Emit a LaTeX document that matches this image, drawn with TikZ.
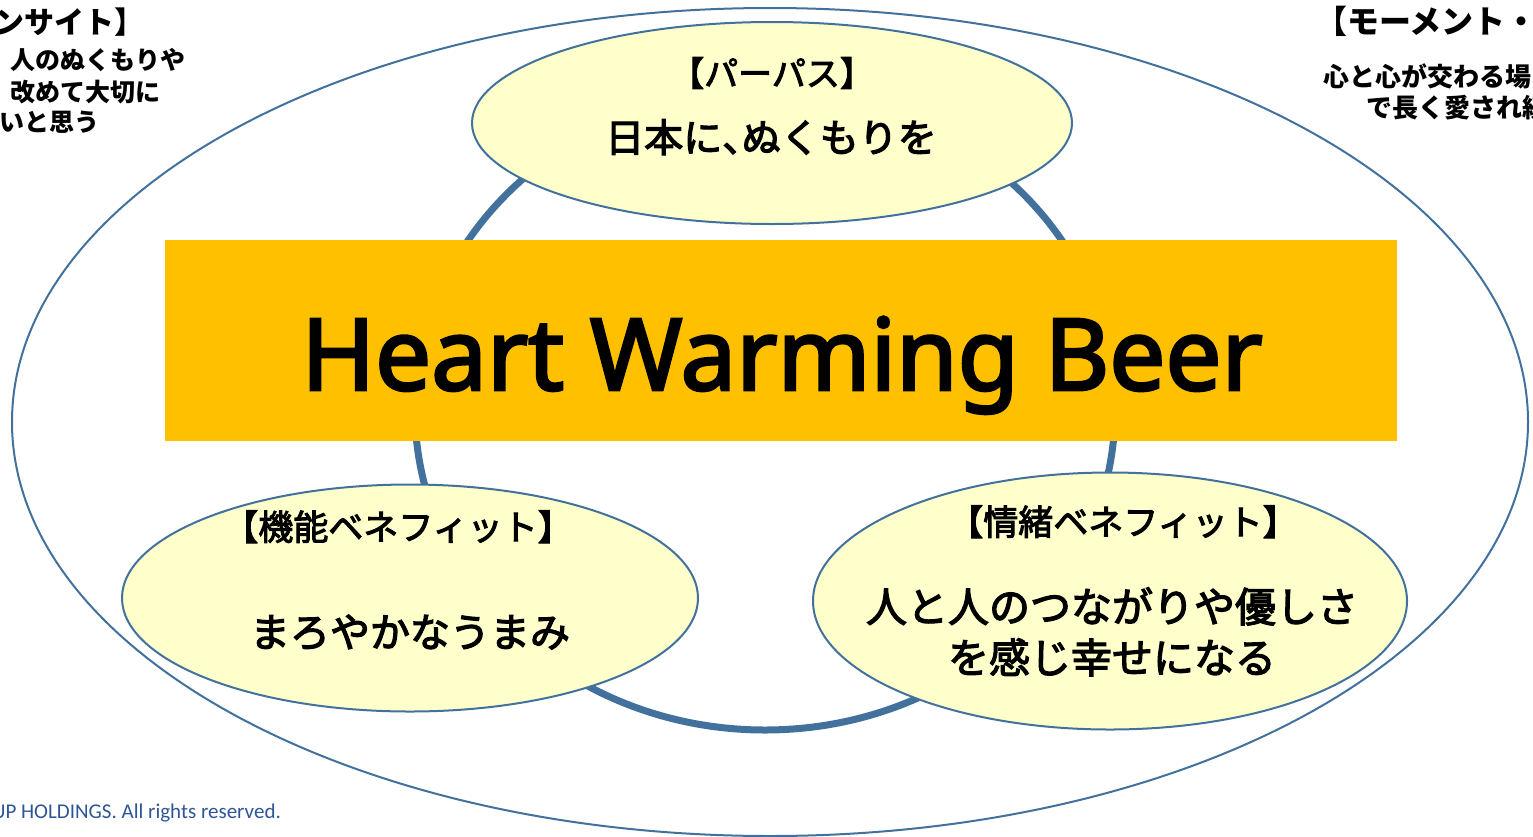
\documentclass[tikz,border=0pt]{standalone}
\usepackage{fontspec}
\setmainfont{Noto Sans CJK JP}
\newfontfamily\latinfont{Noto Sans}
\newfontfamily\copyfont{Carlito}
\usetikzlibrary{shapes.geometric}
\definecolor{lineblue}{HTML}{41719C}
\definecolor{paleyellow}{HTML}{FFFFCC}
\definecolor{beerorange}{HTML}{FFC000}
\definecolor{copyblue}{HTML}{2F5597}
\newcommand{\hcomma}{{\addfontfeature{RawFeature=+halt}、}}
\newcommand{\emb}[2]{\special{pdf:literal direct 2 Tr #1 w}#2\special{pdf:literal direct 0 Tr}}
\tikzset{
  bubble/.style={ellipse, draw=lineblue, line width=2pt, fill=paleyellow, inner sep=0pt},
  jtext/.style={inner sep=0pt, anchor=base, text=black, font=\fontsize{#1}{#1}\selectfont},
  ctext/.style={inner sep=0pt, text=black, font=\bfseries\fontsize{#1}{#1}\selectfont}
}
\begin{document}
\begin{tikzpicture}[x=1pt,y=-1pt]
\useasboundingbox (0,0) rectangle (1533,836);
% outer ellipse
\node[ellipse, draw=lineblue, line width=2pt, minimum width=1516pt, minimum height=828pt, inner sep=0pt] (outer) at (770,422) {};
% thick ring
\node[ellipse, draw=lineblue, line width=7pt, minimum width=700pt, minimum height=640pt, inner sep=0pt] (ring) at (765,410) {};
% orange band
\node[fill=beerorange, minimum width=1232pt, minimum height=201pt, inner sep=0pt] (band) at (781,340.5) {};
\node[inner sep=0pt, anchor=base, font=\latinfont\fontsize{99.5}{99.5}\selectfont] (title) at (782,390) {\emb{2.8}{Heart Warming Beer}};
% bubbles
\node[bubble, minimum width=600pt, minimum height=202pt] (purpose) at (772,123) {};
\node[bubble, minimum width=576pt, minimum height=227pt] (func) at (410,598) {};
\node[bubble, minimum width=594pt, minimum height=257pt] (emo) at (1110,601) {};
% bubble texts
\node[jtext=34] (purposeH) at (772,86) {\emb{1}{【パーパス】}};
\node[jtext=39] (purposeT) at (771,152) {\emb{1.2}{日本に\hcomma ぬくもりを}};
\node[jtext=35] (funcH) at (398,540) {\emb{1}{【機能ベネフィット】}};
\node[jtext=40] (funcT) at (410,647) {\emb{1.2}{まろやかなうまみ}};
\node[jtext=35] (emoH) at (1123,535) {\emb{1}{【情緒ベネフィット】}};
\node[jtext=41] (emoT1) at (1112,622) {\emb{1.2}{人と人のつながりや優しさ}};
\node[jtext=41] (emoT2) at (1112,673) {\emb{1.2}{を感じ幸せになる}};
% corner texts left
\node[ctext=30, anchor=base east] (insH) at (145,33) {【インサイト】};
\node[ctext=25, anchor=base east] (ins1) at (186,69) {、人のぬくもりや};
\node[ctext=25, anchor=base east] (ins2) at (161,101) {改めて大切に};
\node[ctext=25, anchor=base east] (ins3) at (100,131) {いと思う};
% corner texts right
\node[ctext=32, anchor=base west] (momH) at (1315,33) {【モーメント・};
\node[ctext=26, anchor=base west] (mom1) at (1323,86) {心と心が交わる場};
\node[ctext=26, anchor=base west] (mom2) at (1366,117) {で長く愛され続};
% copyright
\node[inner sep=0pt, anchor=base east, text=copyblue, font=\copyfont\fontsize{21}{21}\selectfont] (copy) at (281,818) {UP HOLDINGS. All rights reserved.};
\end{tikzpicture}
\end{document}
